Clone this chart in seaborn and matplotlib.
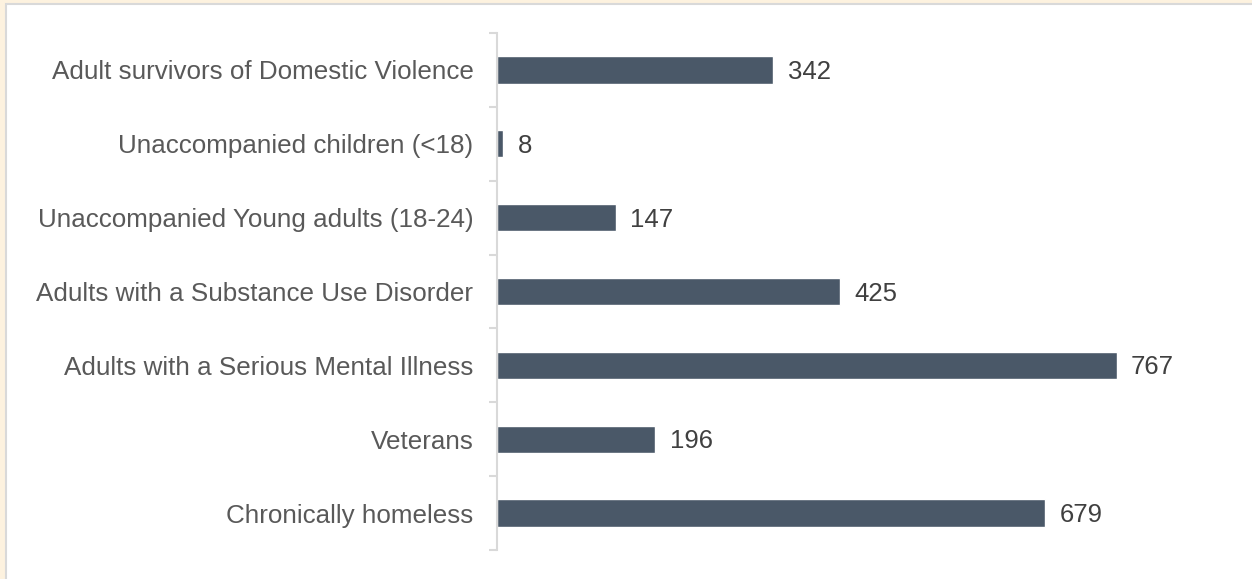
import matplotlib
matplotlib.use("Agg")
import matplotlib.pyplot as plt
import seaborn as sns
import pandas as pd
from matplotlib.patches import Rectangle

categories = [
    "Adult survivors of Domestic Violence",
    "Unaccompanied children (<18)",
    "Unaccompanied Young adults (18-24)",
    "Adults with a Substance Use Disorder",
    "Adults with a Serious Mental Illness",
    "Veterans",
    "Chronically homeless",
]
values = [342, 8, 147, 425, 767, 196, 679]

df = pd.DataFrame({"category": categories, "value": values})

sns.set_theme(style="white")
plt.rcParams["font.family"] = ["Liberation Sans", "DejaVu Sans"]

fig = plt.figure(figsize=(12.52, 5.79), dpi=100)
fig.patch.set_facecolor("#FDF2DF")
# inner white panel with grey border
fig.add_artist(Rectangle((5.5 / 1252, -0.1), 1.2, 1.1 - 4.5 / 579,
                         transform=fig.transFigure, facecolor="white",
                         edgecolor="#D9D9D9", linewidth=1.5, zorder=0))

ax = fig.add_axes([497 / 1252, 1 - 550 / 579, (1232 - 497) / 1252, (550 - 33) / 579])
ax.set_facecolor("none")
sns.barplot(data=df, x="value", y="category", orient="h", color="#4A5868",
            saturation=1, width=0.37, ax=ax)

ax.set_xlim(0, 910)
ax.set_ylim(6.5, -0.5)
ax.set_xlabel("")
ax.set_ylabel("")
ax.set_xticks([])
for s in ["top", "right", "bottom"]:
    ax.spines[s].set_visible(False)
ax.spines["left"].set_color("#D9D9D9")
ax.spines["left"].set_linewidth(1.5)

ax.tick_params(axis="y", which="major", length=0, pad=17, labelsize=18.7, labelcolor="#595959")
ax.set_yticks([i + 0.5 for i in range(-1, 7)], minor=True)
ax.tick_params(axis="y", which="minor", length=6, width=1.5, color="#D9D9D9", left=True)

for cont in ax.containers:
    texts = ax.bar_label(cont, labels=[str(v) for v in values], padding=11,
                         fontsize=18.5, color="#404040")
    for t in texts:
        t.set_va("center")
        t.xyann = (10.5, -1.5)

fig.savefig("out.png", dpi=100, facecolor=fig.get_facecolor())
